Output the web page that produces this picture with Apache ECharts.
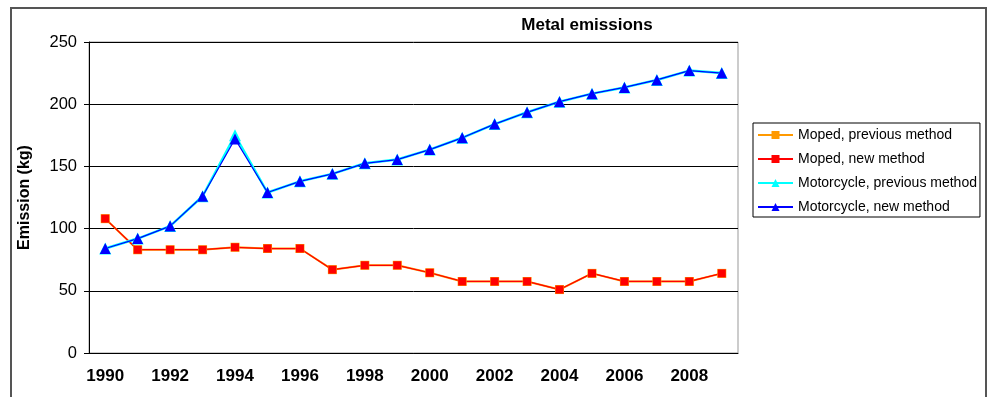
<!DOCTYPE html>
<html>
<head>
<meta charset="utf-8">
<script src="https://cdn.jsdelivr.net/npm/echarts@6/dist/echarts.min.js"></script>
<style>
  html, body { margin: 0; padding: 0; background: #fff; }
  #chart { width: 987px; height: 397px; }
</style>
</head>
<body>
<div id="chart"></div>
<script>
// Years on the category axis
const years = ['1990','1991','1992','1993','1994','1995','1996','1997','1998','1999',
               '2000','2001','2002','2003','2004','2005','2006','2007','2008','2009'];

// Metal emissions in kg
const mopedPrevious = [108, 83, 83, 83, 85, 84, 84, 67, 70.5, 70.5, 64.5, 57.5, 57.5, 57.5, 51, 64, 57.5, 57.5, 57.5, 64];
const mopedNew      = [108, 83, 83, 83, 85, 84, 84, 67, 70.5, 70.5, 64.5, 57.5, 57.5, 57.5, 51, 64, 57.5, 57.5, 57.5, 64];
const motoPrevious  = [84, 92, 102, 126, 175, 129, 138, 144, 152.5, 155.5, 163.5, 173, 184, 193.5, 202, 208.5, 213.5, 219.5, 227, 225];
const motoNew       = [84, 92, 102, 126, 172, 129, 138, 144, 152.5, 155.5, 163.5, 173, 184, 193.5, 202, 208.5, 213.5, 219.5, 227, 225];

const seriesNames = ['Moped, previous method', 'Moped, new method',
                     'Motorcycle, previous method', 'Motorcycle, new method'];

const FONT = 'Liberation Sans, Arial, sans-serif';

const chart = echarts.init(document.getElementById('chart'), null, { renderer: 'canvas' });

function lineSeries(name, data, color, width, symbol, size) {
  return {
    name: name,
    type: 'line',
    data: data,
    symbol: symbol,
    symbolSize: size,
    showAllSymbol: true,
    lineStyle: { color: color, width: width },
    itemStyle: { color: color, borderWidth: 0 },
    emphasis: { disabled: true },
    animation: false
  };
}

chart.setOption({
  backgroundColor: '#fff',
  animation: false,
  title: {
    text: 'Metal emissions',
    left: 582,
    top: 12,
    textAlign: 'center',
    textStyle: { fontFamily: FONT, fontSize: 17, fontWeight: 'bold', color: '#000' }
  },
  graphic: [{
    type: 'rect',
    shape: { x: 11, y: 8, width: 975, height: 420 },
    style: { fill: 'none', stroke: '#555', lineWidth: 2 },
    silent: true,
    z: 100
  }],
  grid: {
    left: 89, right: 249, top: 42, bottom: 44,
    show: true, borderColor: '#999', borderWidth: 1, backgroundColor: 'transparent'
  },
  legend: {
    orient: 'vertical',
    left: 753,
    top: 123,
    padding: [4, 3, 2, 4],
    itemWidth: 35,
    itemHeight: 10,
    itemGap: 8,
    borderColor: '#000',
    borderWidth: 1,
    data: seriesNames,
    textStyle: { fontFamily: FONT, fontSize: 14, color: '#000', lineHeight: 16 }
  },
  xAxis: {
    type: 'category',
    data: years,
    boundaryGap: true,
    axisLine: { lineStyle: { color: '#000', width: 1 } },
    axisTick: { interval: 0, length: 5, lineStyle: { color: '#000' } },
    axisLabel: {
      interval: 1,
      margin: 15,
      fontFamily: FONT, fontSize: 17, fontWeight: 'bold', color: '#000'
    },
    splitLine: { show: false }
  },
  yAxis: {
    type: 'value',
    min: 0, max: 250, interval: 50,
    name: 'Emission (kg)',
    nameLocation: 'middle',
    nameGap: 56,
    nameTextStyle: { fontFamily: FONT, fontSize: 16, fontWeight: 'bold', color: '#000' },
    axisLine: { show: true, lineStyle: { color: '#000', width: 1 } },
    axisTick: { show: true, length: 5, lineStyle: { color: '#000' } },
    axisLabel: { margin: 12, fontFamily: FONT, fontSize: 16.5, color: '#000' },
    splitLine: { lineStyle: { color: '#000', width: 1 } }
  },
  series: [
    lineSeries(seriesNames[0], mopedPrevious, '#FF9900', 2, 'rect', 9),
    lineSeries(seriesNames[1], mopedNew, '#FF0000', 1.25, 'rect', 8),
    lineSeries(seriesNames[2], motoPrevious, '#00FFFF', 2.5, 'triangle', 12),
    lineSeries(seriesNames[3], motoNew, '#0000FF', 1.25, 'triangle', 11)
  ]
});
</script>
</body>
</html>
